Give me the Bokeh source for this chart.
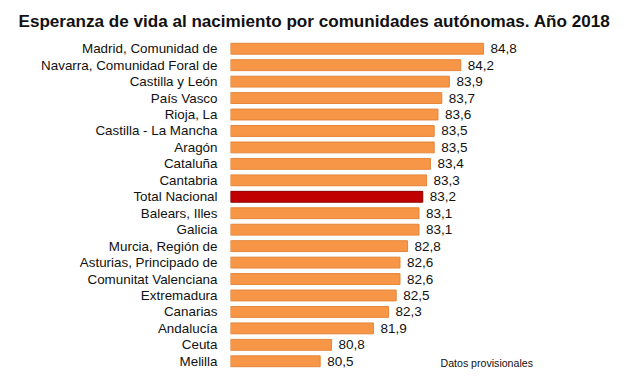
from bokeh.plotting import figure
from bokeh.models import FactorRange, Range1d, Label, ColumnDataSource
from bokeh.core.properties import value
from bokeh.embed import file_html
from bokeh.resources import INLINE

title_text = "Esperanza de vida al nacimiento por comunidades autónomas. Año 2018"
regions = [
    "Madrid, Comunidad de", "Navarra, Comunidad Foral de", "Castilla y León",
    "País Vasco", "Rioja, La", "Castilla - La Mancha", "Aragón", "Cataluña",
    "Cantabria", "Total Nacional", "Balears, Illes", "Galicia",
    "Murcia, Región de", "Asturias, Principado de", "Comunitat Valenciana",
    "Extremadura", "Canarias", "Andalucía", "Ceuta", "Melilla",
]
life_expectancy = [84.8, 84.2, 83.9, 83.7, 83.6, 83.5, 83.5, 83.4, 83.3, 83.2,
                   83.1, 83.1, 82.8, 82.6, 82.6, 82.5, 82.3, 81.9, 80.8, 80.5]
highlight = "Total Nacional"
note = "Datos provisionales"

BASE = 78.14
FONT = "Liberation Sans"
ORANGE, ORANGE_LINE = "#F79646", "#E4853A"
RED, RED_LINE = "#C00000", "#8E0000"

fills = [RED if r == highlight else ORANGE for r in regions]
lines = [RED_LINE if r == highlight else ORANGE_LINE for r in regions]
labels = [f"{v:.1f}".replace(".", ",") for v in life_expectancy]

src = ColumnDataSource(dict(region=regions, val=life_expectancy, fill=fills,
                            line=lines, label=labels))

p = figure(width=616, height=377, output_backend="svg", toolbar_location=None,
           y_range=FactorRange(factors=list(reversed(regions)), range_padding=0),
           x_range=Range1d(BASE, BASE + 330 / 38.0),
           min_border_left=230, min_border_right=56, min_border_top=40,
           min_border_bottom=8)

p.hbar(y="region", left=BASE, right="val", height=0.66, source=src,
       fill_color="fill", line_color="line", line_width=1)

p.text(x="val", y="region", text="label", source=src, x_offset=7,
       text_baseline="middle", text_align="left", text_font=value(FONT),
       text_font_size="13.5px", text_color="#111111")

p.title.text = title_text
p.title.text_font = FONT
p.title.text_font_size = "17.1px"
p.title.text_font_style = "bold"
p.title.align = "left"
p.title.offset = -212
p.title.standoff = 19
p.title.text_color = "#111111"

p.xaxis.visible = False
yax = p.yaxis[0]
yax.axis_line_color = None
yax.major_tick_line_color = None
yax.minor_tick_line_color = None
yax.major_label_standoff = 7
yax.major_label_text_font = FONT
yax.major_label_text_font_size = "13.4px"
yax.major_label_text_color = "#111111"

p.xgrid.visible = False
p.ygrid.visible = False
p.outline_line_color = None

p.add_layout(Label(x=210, y=6.5, x_units="screen", y_units="screen", text=note,
                   text_font=FONT, text_font_size="10.6px", text_baseline="middle",
                   text_color="#111111"))

open("out.html", "w").write(file_html(p, INLINE))
